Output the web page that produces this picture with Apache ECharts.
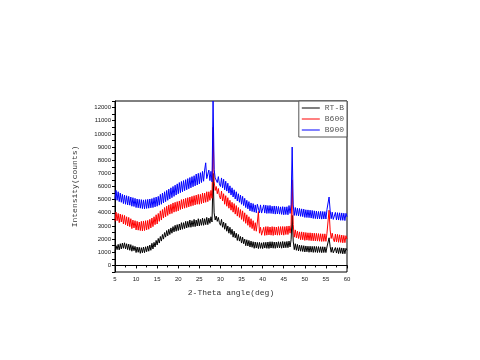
<!DOCTYPE html>
<html><head><meta charset="utf-8">
<script src="https://cdn.jsdelivr.net/npm/echarts@6/dist/echarts.min.js"></script>
<style>html,body{margin:0;padding:0;background:#fff}#c{width:480px;height:360px}</style>
</head><body><div id="c"></div>
<script>
var xs = [
5,5.25,5.5,5.75,6,6.25,6.5,6.75,7,7.25,7.5,7.75,8,8.25,8.5,8.75,9,9.25,9.5,9.75,
10,10.25,10.5,10.75,11,11.25,11.5,11.75,12,12.25,12.5,12.75,13,13.25,13.5,13.75,14,14.25,14.5,14.75,
15,15.25,15.5,15.75,16,16.25,16.5,16.75,17,17.25,17.5,17.75,18,18.25,18.5,18.75,19,19.25,19.5,19.75,
20,20.25,20.5,20.75,21,21.25,21.5,21.75,22,22.25,22.5,22.75,23,23.25,23.5,23.75,24,24.25,24.5,24.75,
25,25.25,25.5,25.75,26,26.25,26.5,26.75,27,27.25,27.5,27.75,28,28.25,28.5,28.75,29,29.25,29.5,29.75,
30,30.25,30.5,30.75,31,31.25,31.5,31.75,32,32.25,32.5,32.75,33,33.25,33.5,33.75,34,34.25,34.5,34.75,
35,35.25,35.5,35.75,36,36.25,36.5,36.75,37,37.25,37.5,37.75,38,38.25,38.5,38.75,39,39.25,39.5,39.75,
40,40.25,40.5,40.75,41,41.25,41.5,41.75,42,42.25,42.5,42.75,43,43.25,43.5,43.75,44,44.25,44.5,44.75,
45,45.25,45.5,45.75,46,46.25,46.5,46.75,47,47.25,47.5,47.75,48,48.25,48.5,48.75,49,49.25,49.5,49.75,
50,50.25,50.5,50.75,51,51.25,51.5,51.75,52,52.25,52.5,52.75,53,53.25,53.5,53.75,54,54.25,54.5,54.75,
55,55.25,55.5,55.75,56,56.25,56.5,56.75,57,57.25,57.5,57.75,58,58.25,58.5,58.75,59,59.25,59.5,59.75,
60];

var rtb = [
1050,1500,1200,1600, 1180,1650,1250,1700, 1300,1720,1260,1650, 1200,1620,1150,1580, 1080,1500,1120,1450,
980,1400,1000,1380, 920,1350,960,1400, 970,1420,1040,1480, 1080,1550,1150,1680, 1250,1750,1400,1900,
1550,2050,1700,2200, 1850,2350,2000,2500, 2150,2650,2250,2750, 2350,2850,2450,2950, 2550,3050,2600,3100,
2650,3150,2700,3250, 2750,3250,2800,3350, 2850,3350,2900,3450, 2900,3400,2950,3500, 2950,3450,3000,3550,
3000,3500,3050,3600, 3050,3550,3100,3650, 3100,3600,3200,3700, 3300,7000,4000,3450, 3750,3350,3650,3250,
3050,3500,2900,3300, 2750,3200,2600,3000, 2450,2900,2350,2750, 2150,2600,2100,2450, 1900,2350,1850,2200,
1700,2150,1650,2000, 1500,1950,1480,1900, 1400,1850,1380,1800, 1300,1780,1320,1750, 1280,1750,1300,1720,
1280,1750,1320,1760, 1300,1780,1290,1800, 1320,1800,1310,1780, 1300,1780,1340,1800, 1330,1790,1310,1820,
1330,1800,1350,1820, 1350,1850,1400,1950, 3800,1850,1200,1650, 1150,1600,1100,1550, 1080,1520,1060,1500,
1020,1480,1040,1460, 1000,1460,1010,1450, 990,1450,1000,1440, 980,1430,990,1420, 970,1420,980,1410,
980,1400,1250,2100, 1450,1000,1380,960, 920,1360,940,1340, 900,1350,920,1330, 880,1320,890,1300,
1150];

var b600 = [
3350,4050,3400,3950, 3250,3900,3300,3850, 3150,3800,3100,3700, 3000,3650,2950,3550, 2800,3450,2850,3400,
2700,3350,2680,3300, 2650,3350,2620,3380, 2650,3400,2700,3420, 2750,3500,2850,3600, 2950,3700,3100,3850,
3150,3950,3350,4150, 3450,4250,3600,4400, 3700,4500,3800,4600, 3900,4650,3950,4750, 4050,4800,4100,4850,
4150,4900,4250,5000, 4300,5050,4350,5100, 4400,5150,4450,5200, 4500,5250,4550,5300, 4600,5350,4650,5400,
4650,5400,4700,5500, 4750,5500,4800,5600, 4850,5600,4950,5700, 5100,10500,6400,5700, 6000,5450,5850,5300,
5050,5650,4900,5450, 4650,5300,4500,5150, 4350,4950,4200,4800, 4050,4700,3900,4550, 3750,4400,3650,4250,
3500,4150,3350,4000, 3200,3850,3050,3700, 2900,3550,2800,3400, 2650,3250,2600,3300, 4100,2450,2900,2300,
2300,2900,2280,2950, 2300,2950,2320,2920, 2300,2950,2280,2930, 2320,2920,2300,2950, 2300,2950,2330,2960,
2300,2950,2350,2980, 2350,3000,2450,3100, 6500,3100,2150,2700, 2100,2600,2050,2550, 1950,2550,1950,2520,
1900,2500,1920,2480, 1900,2480,1880,2460, 1870,2450,1860,2440, 1850,2420,1840,2410, 1820,2400,1830,2400,
1830,2450,2350,4200, 2700,2050,2450,2000, 1800,2380,1790,2360, 1760,2330,1750,2310, 1720,2280,1730,2260,
2000];

var b900 = [
5000,5700,4950,5600, 4850,5500,4800,5400, 4700,5350,4650,5300, 4600,5250,4580,5200, 4500,5150,4480,5100,
4400,5050,4380,5020, 4350,5000,4320,4980, 4300,5000,4330,5020, 4350,5050,4380,5080, 4400,5150,4450,5200,
4500,5250,4580,5400, 4650,5500,4750,5600, 4850,5700,4950,5800, 5050,5900,5150,6000, 5250,6100,5350,6200,
5450,6300,5530,6380, 5600,6450,5680,6520, 5750,6600,5830,6680, 5900,6750,5980,6820, 6050,6950,6120,7000,
6200,7050,6300,7150, 6400,7250,7800,6600, 6550,7250,6450,7150, 6350,12500,7300,6650, 6700,6300,6750,6200,
6000,6650,5900,6550, 5750,6400,5650,6250, 5500,6050,5350,5900, 5200,5750,5050,5600, 4900,5450,4800,5350,
4650,5250,4550,5100, 4400,4950,4300,4850, 4150,4750,4100,4700, 4050,4600,4000,4650, 4650,4000,4600,3980,
4000,4600,3980,4580, 3950,4550,3960,4560, 3950,4500,3930,4520, 3900,4500,3920,4480, 3900,4450,3880,4470,
3850,4450,3870,4460, 3850,4550,3950,4650, 9000,4600,3800,4400, 3800,4350,3760,4330, 3730,4300,3710,4280,
3650,4230,3640,4220, 3630,4200,3600,4180, 3570,4150,3560,4130, 3530,4100,3540,4110, 3520,4100,3530,4090,
3530,4250,4100,5200, 4200,3550,4050,3500, 3450,4030,3460,4010, 3450,4000,3430,3990, 3430,3970,3410,3960,
3700];

var names = ['RT-B','B600','B900'];
var colors = ['#000000','#ff0000','#0000ff'];

function pairs(ys){ return xs.map(function(x,i){ return [x, ys[i]]; }); }
var allY = [rtb, b600, b900];

var chart = echarts.init(document.getElementById('c'), null, {renderer:'canvas'});
chart.setOption({
  animation:false,
  backgroundColor:'#fff',
  grid:{left:115, right:133, top:101, bottom:88, show:true, borderColor:'#000', borderWidth:1, backgroundColor:'transparent'},
  legend:{
    orient:'vertical', right:133, top:101, data:names,
    backgroundColor:'#fff', borderColor:'#555', borderWidth:1,
    padding:[3,3,3,3], itemGap:3, itemWidth:18, itemHeight:1, icon:'rect',
    textStyle:{fontFamily:'Liberation Mono', fontSize:8, color:'#555', padding:[0,0,0,0]}
  },
  xAxis:{
    type:'value', min:5, max:60, interval:5,
    name:'2-Theta angle(deg)', nameLocation:'middle', nameGap:17,
    nameTextStyle:{fontFamily:'Liberation Mono', fontSize:8, color:'#333'},
    axisLine:{lineStyle:{color:'#000', width:1}},
    axisTick:{length:3, lineStyle:{color:'#000'}},
    minorTick:{show:true, splitNumber:2, length:2, lineStyle:{color:'#000'}},
    axisLabel:{fontFamily:'Liberation Sans', fontSize:6, color:'#222', margin:4},
    splitLine:{show:false}
  },
  yAxis:{
    type:'value', min:-500, max:12500, interval:500,
    name:'Intensity(counts)', nameLocation:'middle', nameGap:36, nameRotate:90,
    nameTextStyle:{fontFamily:'Liberation Mono', fontSize:8, color:'#333'},
    axisLine:{show:true, lineStyle:{color:'#000', width:1}},
    axisTick:{show:true, length:3, lineStyle:{color:'#000'}},
    axisLabel:{fontFamily:'Liberation Sans', fontSize:6, color:'#222', margin:4,
      formatter:function(v){ return (v % 1000 === 0) ? String(v) : ''; }},
    splitLine:{show:false}
  },
  series: allY.map(function(ys,i){
    return {name:names[i], type:'line', data:pairs(ys), showSymbol:false, symbol:'none',
      sampling:null, lineStyle:{color:colors[i], width:1}, itemStyle:{color:colors[i]},
      clip:true, z:2+i};
  })
});
</script></body></html>
